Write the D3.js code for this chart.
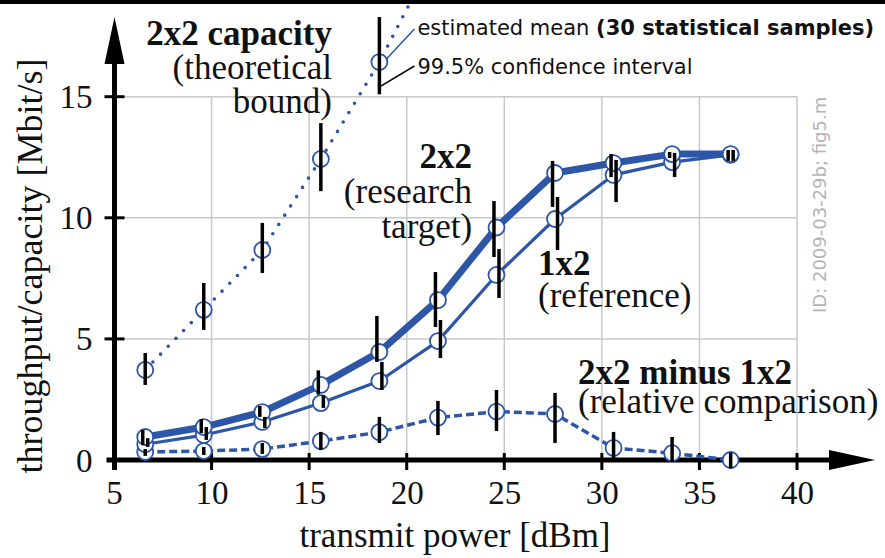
<!DOCTYPE html>
<html>
<head>
<meta charset="utf-8">
<script src="https://cdn.jsdelivr.net/npm/d3@7"></script>
<style>
  body { margin: 0; background: #fff; }
  svg { display: block; }
  .serif { font-family: "Liberation Serif", "Times New Roman", serif; fill: #111; }
  .sans { font-family: "DejaVu Sans", Verdana, sans-serif; fill: #111; }
</style>
</head>
<body>
<div id="container"></div>
<script>
const power = [6.6, 9.6, 12.6, 15.6, 18.6, 21.6, 24.6, 27.6, 30.6, 33.6, 36.6];

const target2x2 = [0.95, 1.36, 1.98, 3.1, 4.46, 6.6, 9.6, 11.85, 12.26, 12.63, 12.63];
const target2x2Lo = [0.62, 1.11, 1.78, 2.7, 4.05, 5.49, 8.38, 10.45, 11.68, 12.47, 12.35];
const target2x2Hi = [1.24, 1.69, 2.23, 3.7, 5.95, 7.76, 10.69, 12.35, 12.63, 12.72, 12.8];

const ref1x2 = [0.65, 1.03, 1.57, 2.35, 3.26, 4.91, 7.64, 9.95, 11.77, 12.3, 12.6];
const ref1x2Lo = [0.54, 0.83, 1.32, 2.15, 2.89, 4.21, 6.69, 8.67, 10.65, 11.68, 12.35];
const ref1x2Hi = [0.9, 1.36, 1.78, 2.68, 4.05, 5.78, 8.71, 10.86, 12.39, 12.68, 12.8];

const diff = [0.33, 0.37, 0.45, 0.78, 1.15, 1.75, 2.0, 1.9, 0.5, 0.28, 0.0];
const diffLo = [0.17, 0.21, 0.25, 0.41, 0.7, 1.03, 1.2, 0.7, 0.08, -0.08, -0.35];
const diffHi = [0.45, 0.54, 0.7, 1.16, 1.78, 2.44, 2.89, 2.77, 1.16, 0.95, 0.3];

const capPower = [6.6, 9.6, 12.6, 15.6, 18.6, 21.6];
const capacity = [3.72, 6.2, 8.67, 12.43, 16.43, 21.1];
const capacityLo = [3.1, 5.37, 7.72, 11.1, 15.1, 19.4];
const capacityHi = [4.42, 7.31, 9.79, 13.91, 18.29, 22.8];

const xTicks = [5, 10, 15, 20, 25, 30, 35, 40];
const yTicks = [0, 5, 10, 15];

const w = 885;
const h = 558;
const blue = '#2d56a6';

const svg = d3.select('#container')
  .append('svg')
  .attr('width', w)
  .attr('height', h);

const x = d3.scaleLinear().domain([5, 40]).range([114, 797]);
const y = d3.scaleLinear().domain([0, 15]).range([460, 96.7]);

svg.append('rect')
  .attr('width', w)
  .attr('height', 4)
  .attr('fill', '#000');

// grid
const grid = svg.append('g')
  .attr('stroke', '#c8c8c8')
  .attr('stroke-width', 1.5);
grid.selectAll('line.v')
  .data(xTicks.slice(1))
  .enter()
  .append('line')
  .attr('x1', d => x(d))
  .attr('x2', d => x(d))
  .attr('y1', y(0))
  .attr('y2', y(15));
grid.selectAll('line.h')
  .data(yTicks.slice(1))
  .enter()
  .append('line')
  .attr('x1', x(5))
  .attr('x2', x(40))
  .attr('y1', d => y(d))
  .attr('y2', d => y(d));

// axes
const axes = svg.append('g');
const x0 = x(5) + 0.5;
const y0 = y(0);

axes.append('line')
  .attr('x1', x0 - 8).attr('x2', x(40) + 35)
  .attr('y1', y0).attr('y2', y0)
  .attr('stroke', '#000').attr('stroke-width', 5);
axes.append('path')
  .attr('d', `M${x(40) + 78},${y0} L${x(40) + 32},${y0 - 10} L${x(40) + 32},${y0 + 10} Z`)
  .attr('fill', '#000');

axes.append('line')
  .attr('x1', x0).attr('x2', x0)
  .attr('y1', y0 + 10).attr('y2', 60)
  .attr('stroke', '#000').attr('stroke-width', 5);
axes.append('path')
  .attr('d', `M${x0},17 L${x0 - 10},64 L${x0 + 10},64 Z`)
  .attr('fill', '#000');

axes.selectAll('line.xt')
  .data(xTicks)
  .enter()
  .append('line')
  .attr('x1', d => x(d)).attr('x2', d => x(d))
  .attr('y1', y0 - 7).attr('y2', y0 + 10)
  .attr('stroke', '#000').attr('stroke-width', 3);

axes.selectAll('line.yt')
  .data(yTicks.slice(1))
  .enter()
  .append('line')
  .attr('x1', x0 - 10).attr('x2', x0 + 10)
  .attr('y1', d => y(d)).attr('y2', d => y(d))
  .attr('stroke', '#000').attr('stroke-width', 3);

const xAxis = svg.append('g')
  .attr('transform', `translate(0,${y0})`)
  .call(d3.axisBottom(x).tickValues(xTicks).tickSize(0).tickFormat(d3.format('d')));
xAxis.select('.domain').remove();
xAxis.selectAll('text')
  .attr('class', 'serif')
  .attr('y', 44)
  .attr('dy', 0)
  .style('font-size', '33px');

const yAxis = svg.append('g')
  .attr('transform', `translate(${x0},0)`)
  .call(d3.axisLeft(y).tickValues(yTicks).tickSize(0).tickFormat(d3.format('d')));
yAxis.select('.domain').remove();
yAxis.selectAll('text')
  .attr('class', 'serif')
  .attr('x', -22)
  .attr('dy', 11)
  .style('font-size', '33px');
svg.selectAll('.tick text').attr('fill', '#111');

svg.append('text')
  .attr('class', 'serif')
  .attr('x', 455)
  .attr('y', 547)
  .attr('text-anchor', 'middle')
  .style('font-size', '35px')
  .text('transmit power [dBm]');

svg.append('text')
  .attr('class', 'serif')
  .attr('transform', 'translate(42,266) rotate(-90)')
  .attr('text-anchor', 'middle')
  .style('font-size', '36px')
  .text('throughput/capacity [Mbit/s]');

svg.append('text')
  .attr('class', 'sans')
  .attr('transform', 'translate(826,313) rotate(-90)')
  .style('font-size', '18px')
  .style('fill', '#b4b4b4')
  .text('ID: 2009-03-29b; fig5.m');

// series lines
const line = (xs, ys) => d3.line()
  .x((d, i) => x(xs[i]))
  .y(d => y(d))(ys);

const lines = svg.append('g')
  .attr('fill', 'none')
  .attr('stroke', blue)
  .attr('stroke-linejoin', 'round');

lines.append('path')
  .attr('d', line(capPower, capacity))
  .attr('stroke-width', 3.6)
  .attr('stroke-linecap', 'round')
  .attr('stroke-dasharray', '0 11');
lines.append('path')
  .attr('d', line(power, diff))
  .attr('stroke-width', 3.5)
  .attr('stroke-dasharray', '8 4');
lines.append('path')
  .attr('d', line(power, ref1x2))
  .attr('stroke-width', 3.2);
lines.append('path')
  .attr('d', line(power, target2x2))
  .attr('stroke-width', 7);

// markers
const series = [
  { xs: capPower, ys: capacity, lo: capacityLo, hi: capacityHi, dx: 0 },
  { xs: power, ys: diff, lo: diffLo, hi: diffHi, dx: 0 },
  { xs: power, ys: ref1x2, lo: ref1x2Lo, hi: ref1x2Hi, dx: 2.5 },
  { xs: power, ys: target2x2, lo: target2x2Lo, hi: target2x2Hi, dx: -2.5 },
];

series.forEach(s => {
  svg.append('g')
    .selectAll('circle')
    .data(s.ys)
    .enter()
    .append('circle')
    .attr('cx', (d, i) => x(s.xs[i]))
    .attr('cy', d => y(d))
    .attr('r', 8)
    .attr('fill', '#fff')
    .attr('stroke', blue)
    .attr('stroke-width', 1.8);
});

series.forEach(s => {
  svg.append('g')
    .selectAll('line')
    .data(s.ys)
    .enter()
    .append('line')
    .attr('x1', (d, i) => x(s.xs[i]) + s.dx)
    .attr('x2', (d, i) => x(s.xs[i]) + s.dx)
    .attr('y1', (d, i) => y(s.lo[i]))
    .attr('y2', (d, i) => y(s.hi[i]))
    .attr('stroke', '#000')
    .attr('stroke-width', 3.5);
});

// legend callouts on the 18.6 dBm capacity point
const cx = x(capPower[4]);
const cy = y(capacity[4]);
const lx = x(20.55);
svg.append('line')
  .attr('x1', cx + 7).attr('y1', cy - 3)
  .attr('x2', lx - 3).attr('y2', 29)
  .attr('stroke', blue).attr('stroke-width', 1.5);
svg.append('line')
  .attr('x1', cx + 1).attr('y1', y(capacityLo[4]) - 8)
  .attr('x2', lx - 3).attr('y2', 66)
  .attr('stroke', '#000').attr('stroke-width', 1.5);

const legend1 = svg.append('text')
  .attr('class', 'sans')
  .attr('x', lx)
  .attr('y', 35)
  .style('font-size', '21px');
legend1.append('tspan').text('estimated mean ');
legend1.append('tspan').attr('font-weight', 'bold').text('(30 statistical samples)');
svg.append('text')
  .attr('class', 'sans')
  .attr('x', lx)
  .attr('y', 74)
  .style('font-size', '21px')
  .text('99.5% confidence interval');

// annotations
const note = (px, py, anchor, gap, rows) => {
  const t = svg.append('text')
    .attr('class', 'serif')
    .attr('text-anchor', anchor)
    .style('font-size', '35px');
  rows.forEach((r, i) => {
    t.append('tspan')
      .attr('x', px)
      .attr('y', py + i * gap)
      .attr('font-weight', r[1] ? 'bold' : 'normal')
      .text(r[0]);
  });
};

note(x(16.17), 45, 'end', 34, [['2x2 capacity', true], ['(theoretical', false], ['bound)', false]]);
note(x(23.35), 168, 'end', 35, [['2x2', true], ['(research', false], ['target)', false]]);
note(x(26.73), 275, 'start', 32, [['1x2', true], ['(reference)', false]]);
note(x(28.78), 384, 'start', 29, [['2x2 minus 1x2', true], ['(relative comparison)', false]]);
</script>
</body>
</html>
